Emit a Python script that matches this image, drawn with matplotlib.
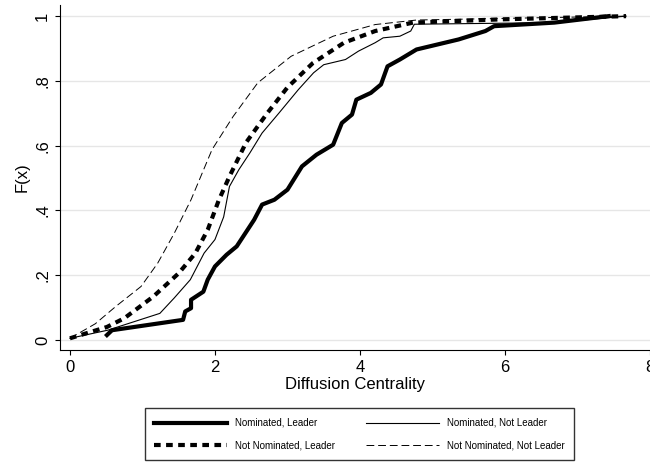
import numpy as np
import matplotlib
matplotlib.use('Agg')
import matplotlib.pyplot as plt

plt.rcParams['font.family'] = ['Liberation Sans', 'DejaVu Sans']

# Nominated, Leader
nl_x = [0.51, 0.58, 1.56, 1.59, 1.67, 1.67, 1.84, 1.9, 2.0, 2.16, 2.3, 2.42, 2.54, 2.65, 2.82, 3.0, 3.2, 3.4,
        3.63, 3.75, 3.89, 3.95, 4.15, 4.29, 4.38, 4.55, 4.78, 5.36, 5.73, 5.85, 6.68, 7.43]
nl_y = [0.015, 0.03, 0.062, 0.088, 0.098, 0.124, 0.149, 0.186, 0.227, 0.263, 0.289, 0.33, 0.371, 0.418, 0.433,
        0.464, 0.536, 0.572, 0.603, 0.67, 0.696, 0.742, 0.763, 0.789, 0.845, 0.866, 0.897, 0.928, 0.954, 0.969,
        0.98, 1.0]
# Nominated, Not Leader
nnl_x = [0.0, 0.52, 1.24, 1.44, 1.66, 1.85, 2.0, 2.12, 2.2, 2.33, 2.48, 2.65, 2.88, 3.15, 3.36, 3.5, 3.8,
         3.98, 4.21, 4.32, 4.55, 4.7, 4.75, 6.68, 7.67]
nnl_y = [0.005, 0.03, 0.082, 0.13, 0.186, 0.268, 0.31, 0.38, 0.474, 0.526, 0.577, 0.639, 0.70, 0.773, 0.825,
         0.85, 0.866, 0.892, 0.918, 0.933, 0.938, 0.954, 0.975, 0.98, 1.0]
# Not Nominated, Leader
nnom_l_x = [0.0, 0.51, 0.75, 1.15, 1.5, 1.73, 1.9, 2.05, 2.2, 2.43, 2.72, 3.0, 3.35, 3.78, 4.21, 4.73, 5.94, 7.67]
nnom_l_y = [0.005, 0.04, 0.067, 0.134, 0.206, 0.268, 0.34, 0.43, 0.505, 0.61, 0.70, 0.78, 0.855, 0.918, 0.954,
            0.98, 0.99, 1.0]
# Not Nominated, Not Leader
nnom_nl_x = [0.0, 0.35, 0.63, 0.98, 1.21, 1.44, 1.67, 1.96, 2.25, 2.59, 3.05, 3.63, 4.21, 4.78, 7.67]
nnom_nl_y = [0.005, 0.05, 0.103, 0.165, 0.237, 0.33, 0.433, 0.588, 0.69, 0.794, 0.876, 0.938, 0.974, 0.988, 1.0]

fig = plt.figure(figsize=(6.5, 4.66), dpi=100)
ax = fig.add_axes([0.092, 0.249, 0.908, 0.74])
for y in [0, 0.2, 0.4, 0.6, 0.8, 1.0]:
    ax.axhline(y, color='#e6e6e6', lw=1, zorder=0)
l1, = ax.plot(nl_x, nl_y, color='black', lw=3, label='Nominated, Leader')
l2, = ax.plot(nnl_x, nnl_y, color='black', lw=0.8, label='Nominated, Not Leader')
l3, = ax.plot(nnom_l_x, nnom_l_y, color='black', lw=3, ls=(0, (1.6, 1.3)), label='Not Nominated, Leader')
l4, = ax.plot(nnom_nl_x, nnom_nl_y, color='black', lw=0.7, ls=(0, (8, 4)), label='Not Nominated, Not Leader')

ax.set_xlim(-0.14, 8)
ax.set_ylim(-0.031, 1.034)
ax.set_xticks([0, 2, 4, 6, 8])
ax.set_yticks([0, 0.2, 0.4, 0.6, 0.8, 1.0])
ax.set_yticklabels(['0', '.2', '.4', '.6', '.8', '1'], rotation=90, va='center')
ax.tick_params(labelsize=12)
ax.spines['top'].set_visible(False)
ax.spines['right'].set_visible(False)
ax.set_xlabel('Diffusion Centrality', fontsize=12, labelpad=2)
ax.set_ylabel('F(x)', fontsize=12)

fig.legend(handles=[l1, l3, l2, l4], ncol=2, loc='center', bbox_to_anchor=(0.553, 0.068),
           fontsize=7, frameon=True, fancybox=False, edgecolor='black', handlelength=7.5,
           columnspacing=3.2, borderpad=1.0, labelspacing=1.3, borderaxespad=0)
fig.savefig('out.png', dpi=100)
